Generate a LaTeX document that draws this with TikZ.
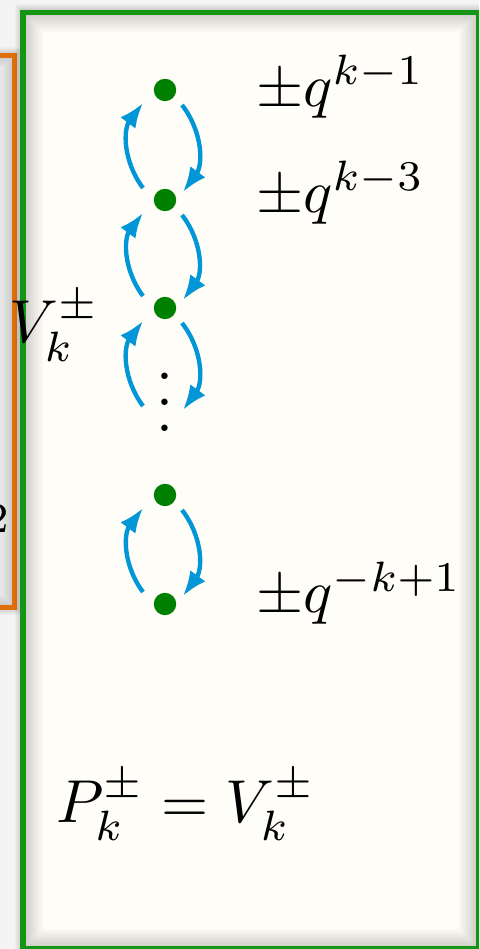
\documentclass[tikz,border=0pt]{standalone}
\usetikzlibrary{arrows.meta,calc}
\definecolor{grn}{RGB}{20,150,20}
\definecolor{org}{RGB}{224,110,10}
\definecolor{dotg}{RGB}{0,128,0}
\definecolor{arrb}{RGB}{0,150,215}
\definecolor{cream}{RGB}{255,253,248}
\definecolor{bgc}{RGB}{244,244,244}
\definecolor{paleinside}{RGB}{250,250,250}
\begin{document}
\begin{tikzpicture}[x=0.165pt,y=0.165pt,
  gdot/.style={circle,fill=dotg,minimum size=3.7pt,inner sep=0pt},
  arr/.style={arrb,line width=0.72pt,-{Latex[length=4.1pt,width=3.1pt]}},
  lab/.style={anchor=base west,inner sep=0pt},
  oshadow/.style={black,opacity=0.025},
  ishadow/.style={black,opacity=0.02}]
\useasboundingbox (0,0) rectangle (479,-949);
\clip (0,0) rectangle (479,-949);
\fill[bgc] (0,0) rectangle (479,-949);
% orange box
\foreach \w in {2,4,...,16} \draw[oshadow,line width=\w*0.165pt] (-30,-55.5) rectangle (14.5,-607.5);
\fill[paleinside] (-30,-55.5) rectangle (14.5,-607.5);
\begin{scope}
  \clip (-30,-55.5) rectangle (14.5,-607.5);
  \foreach \w in {4,8,...,40} \draw[ishadow,line width=\w*0.165pt] (-30,-55.5) rectangle (14.5,-607.5);
\end{scope}
\draw[org,line width=0.85pt] (-30,-55.5) rectangle (14.5,-607.5);
% green box
\foreach \w in {2,4,...,16} \draw[oshadow,line width=\w*0.165pt] (23,-12.5) rectangle (478.5,-948.5);
\fill[cream] (23,-12.5) rectangle (478.5,-948.5);
\begin{scope}
  \clip (23,-12.5) rectangle (478.5,-948.5);
  \foreach \w in {4,8,...,40} \draw[ishadow,line width=\w*0.165pt] (23,-12.5) rectangle (478.5,-948.5);
\end{scope}
\draw[grn,line width=0.85pt] (23,-12.5) rectangle (478.5,-948.5);
% dots
\node[gdot] (d1) at (165,-90) {};
\node[gdot] (d2) at (165,-200) {};
\node[gdot] (d3) at (165,-308) {};
\node[gdot] (d4) at (165,-495) {};
\node[gdot] (d5) at (165,-604) {};
\coordinate (gap) at (165,-418);
\node[anchor=base,inner sep=0pt] (vd) at (165,-432) {\vbox{\baselineskip4.3pt\lineskiplimit0pt\hbox{.}\hbox{.}\hbox{.}}};
% arrows
\foreach \lo/\up in {d2/d1,d3/d2,gap/d3,d5/d4}{
  \draw[arr] ($(\lo)+(-22,12)$) to[bend left=37] ($(\up)+(-22,-13)$);
  \draw[arr] ($(\up)+(17,-15)$) to[bend left=37] ($(\lo)+(18,8)$);
}
% labels
\node[lab] (l1) at (255,-107) {$\pm q^{k-1}$};
\node[lab] (l2) at (255,-213) {$\pm q^{k-3}$};
\node[lab] (l3) at (255,-613) {$\pm q^{-k+1}$};
\node[lab] (eq) at (55,-822) {$P^\pm_k = V^\pm_k$};
\node[lab] (vk) at (8,-343) {$V^\pm_k$};
\node[anchor=base east,inner sep=0pt] (two) at (10,-533) {$\scriptstyle 2$};
\end{tikzpicture}
\end{document}
